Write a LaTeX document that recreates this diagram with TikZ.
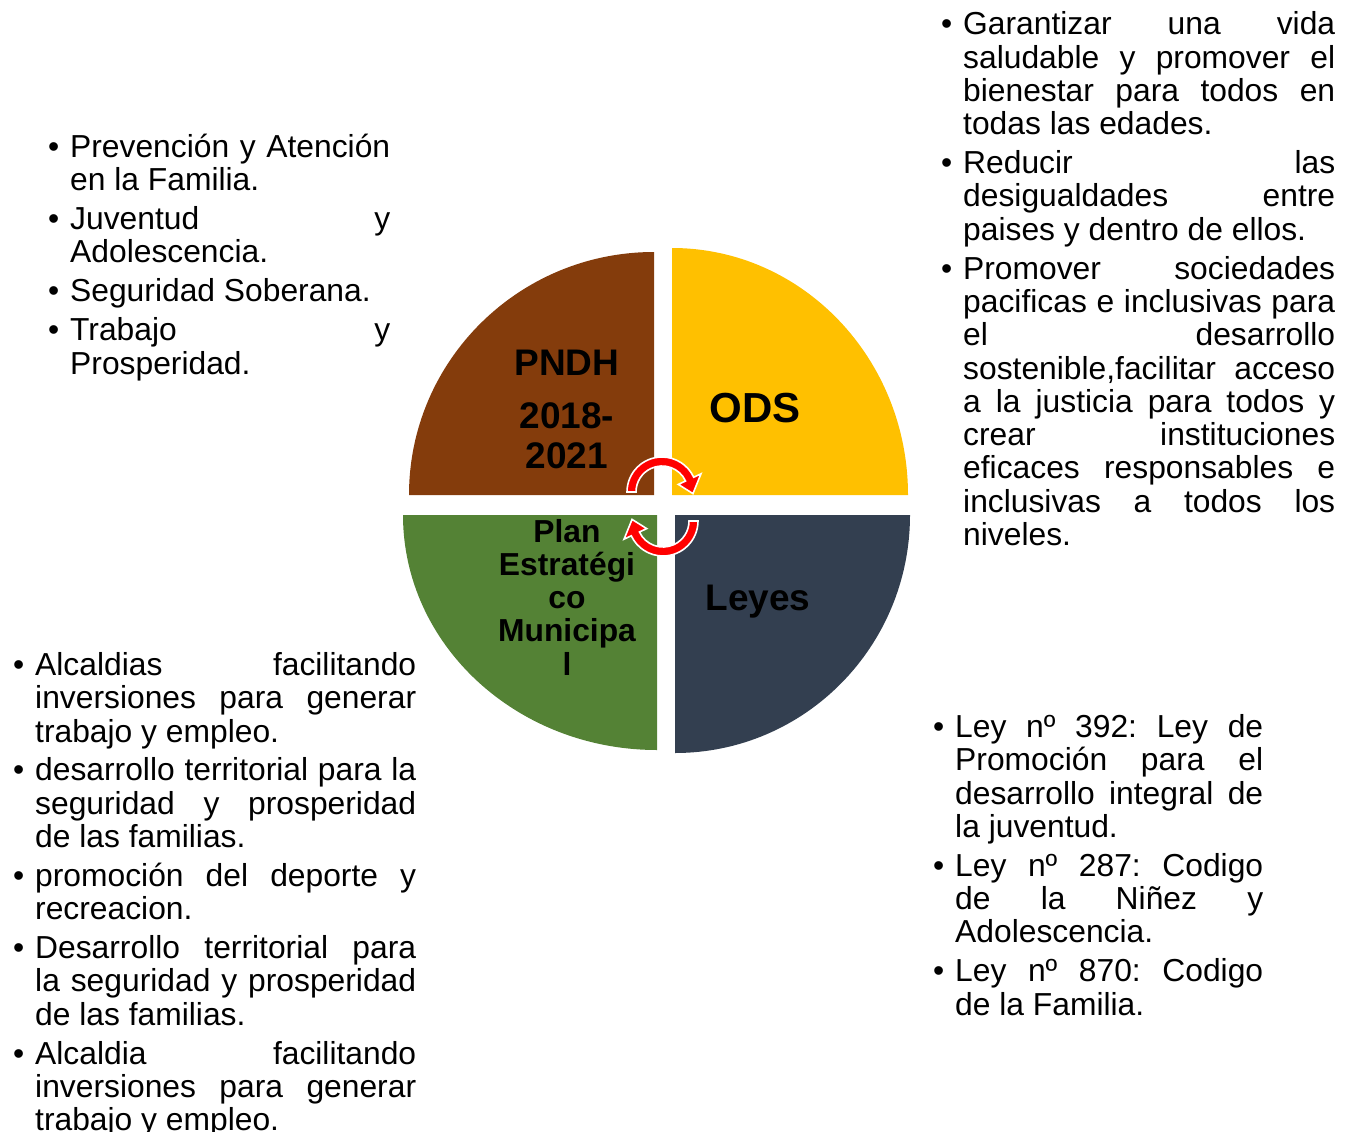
\documentclass[tikz,border=0pt]{standalone}
\usepackage{fontspec}
\setmainfont{Liberation Sans}
\definecolor{pndhcol}{HTML}{843C0C}
\definecolor{odscol}{HTML}{FFC000}
\definecolor{plancol}{HTML}{548235}
\definecolor{leyescol}{HTML}{333F50}
\tikzset{
  lista/.style={inner sep=0pt, anchor=base west, align=justify,
    font=\fontsize{31.8}{33.3}\selectfont,
    execute at begin node={\frenchspacing\parskip=5.6pt\tolerance=10000\hyphenpenalty=10000}},
  titulo/.style={inner sep=0pt, anchor=base, align=center, text width=220pt},
  flecha/.style={fill=red, draw=white, line width=1.6pt}
}
\newcommand\itm{\par\noindent\llap{\makebox[22pt][l]{•}}}
\begin{document}
\begin{tikzpicture}[x=1pt, y=1pt]
\useasboundingbox (0,0) rectangle (1347,-1132);
% cuadrantes
\fill[pndhcol] (654,-495) -- (409,-495) arc[start angle=180, end angle=90, x radius=245pt, y radius=243pt] -- cycle;
\fill[odscol] (672,-495) -- (672,-248) arc[start angle=90, end angle=0, x radius=236pt, y radius=247pt] -- cycle;
\fill[plancol] (657,-515) -- (403,-515) arc[start angle=180, end angle=270, x radius=254pt, y radius=235pt] -- cycle;
\fill[leyescol] (675,-515) -- (910,-515) arc[start angle=0, end angle=-90, x radius=235pt, y radius=238pt] -- cycle;
% flechas
\begin{scope}[shift={(662,-492)}]
  \filldraw[flecha] (180:35pt) arc[start angle=180, end angle=25, radius=35pt] -- (25:43pt) -- (-3:31pt)
    -- (25:18pt) -- (25:26pt) arc[start angle=25, end angle=180, radius=26pt] -- cycle;
\end{scope}
\begin{scope}[shift={(663,-521)}]
  \filldraw[flecha] (0:35pt) arc[start angle=0, end angle=-155, radius=35pt] -- (-155:43pt) -- (-183:31pt)
    -- (-155:18pt) -- (-155:26pt) arc[start angle=-155, end angle=0, radius=26pt] -- cycle;
\end{scope}
% titulos
\node[titulo, font=\bfseries\fontsize{37}{40}\selectfont] (pndh) at (567,-375) {PNDH\\[13pt]2018-\\2021};
\node[titulo, font=\bfseries\fontsize{42}{44}\selectfont] (ods) at (755,-422) {ODS};
\node[titulo, font=\bfseries\fontsize{31.8}{33.3}\selectfont] (plan) at (567,-542) {Plan\\Estratégi\\co\\Municipa\\l};
\node[titulo, font=\bfseries\fontsize{37}{40}\selectfont] (leyes) at (758,-610) {Leyes};
% listas
\node[lista, text width=320pt] (familia) at (70,-118.5) {\itm Prevención y Atención\linebreak en la Familia.
  \itm Juventud y\linebreak Adolescencia.
  \itm Seguridad Soberana.
  \itm Trabajo y\linebreak Prosperidad.};
\node[lista, text width=372pt] (metas) at (963,4) {\itm Garantizar una vida\linebreak saludable y promover el\linebreak bienestar para todos en\linebreak todas las edades.
  \itm Reducir las\linebreak desigualdades entre\linebreak paises y dentro de ellos.
  \itm Promover sociedades\linebreak pacificas e inclusivas para\linebreak el desarrollo\linebreak sostenible,facilitar acceso\linebreak a la justicia para todos y\linebreak crear instituciones\linebreak eficaces responsables e\linebreak inclusivas a todos los\linebreak niveles.};
\node[lista, text width=381pt] (alcaldia) at (35,-636.5) {\itm Alcaldias facilitando\linebreak inversiones para generar\linebreak trabajo y empleo.
  \itm desarrollo territorial para la\linebreak seguridad y prosperidad\linebreak de las familias.
  \itm promoción del deporte y\linebreak recreacion.
  \itm Desarrollo territorial para\linebreak la seguridad y prosperidad\linebreak de las familias.
  \itm Alcaldia facilitando\linebreak inversiones para generar\linebreak trabajo y empleo.};
\node[lista, text width=308pt] (normas) at (955,-698.5) {\itm Ley nº 392: Ley de\linebreak Promoción para el\linebreak desarrollo integral de\linebreak la juventud.
  \itm Ley nº 287: Codigo\linebreak de la Niñez y\linebreak Adolescencia.
  \itm Ley nº 870: Codigo\linebreak de la Familia.};
\end{tikzpicture}
\end{document}
